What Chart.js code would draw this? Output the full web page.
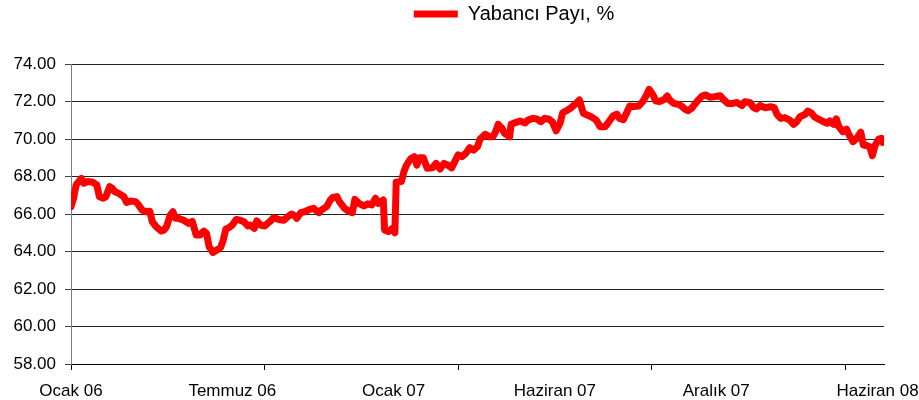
<!DOCTYPE html>
<html>
<head>
<meta charset="utf-8">
<script src="https://cdn.jsdelivr.net/npm/chart.js@4/dist/chart.umd.min.js"></script>
<style>
  html, body { margin: 0; padding: 0; background: #fff; }
  #wrap { width: 919px; height: 400px; }
</style>
</head>
<body>
<div id="wrap"><canvas id="ChartPay"></canvas></div>
<script>
// trading day index (0 = start of Ocak 06) and share value
var days = [0, 2, 4, 8, 10, 13, 17, 20, 22, 25, 27, 30, 32, 34, 37, 41, 43, 46, 50, 52,
  55, 58, 61, 63, 66, 70, 72, 74, 77, 79, 81, 83, 87, 91, 94, 97, 100, 103, 105, 107,
  110, 113, 116, 118, 120, 122, 125, 128, 131, 134, 137, 139, 142, 144, 147, 150, 154, 157, 161, 165,
  168, 171, 174, 175, 178, 181, 185, 188, 192, 194, 198, 201, 203, 206, 208, 212, 215, 218, 220, 223,
  227, 230, 233, 236, 238, 242, 243, 246, 249, 251, 252, 256, 258, 260, 263, 266, 268, 270, 273, 276,
  280, 283, 286, 289, 292, 295, 298, 300, 303, 306, 309, 312, 315, 317, 321, 324, 327, 329, 331, 334,
  336, 340, 341, 345, 348, 352, 354, 358, 361, 364, 367, 370, 373, 376, 379, 381, 384, 387, 391, 394,
  397, 400, 403, 407, 410, 414, 416, 420, 423, 425, 428, 431, 433, 436, 440, 443, 446, 448, 451, 453,
  456, 460, 462, 464, 467, 471, 473, 476, 478, 481, 485, 489, 492, 495, 499, 503, 506, 509, 513, 516,
  520, 522, 526, 529, 531, 534, 538, 542, 545, 547, 550, 553, 557, 560, 562, 565, 569, 571, 574, 576,
  579, 582, 586, 588, 591, 593, 595, 598, 601, 603, 606, 609, 612, 614, 617, 619, 621, 623, 626, 628,
  629];
var yabanciPayi = [66.39, 66.84, 67.55, 67.90, 67.64, 67.73, 67.69, 67.55, 66.92, 66.84, 66.92, 67.46, 67.37, 67.19, 67.10, 66.92, 66.62, 66.69, 66.66, 66.52,
  66.21, 66.12, 66.15, 65.59, 65.32, 65.09, 65.14, 65.32, 65.95, 66.12, 65.77, 65.77, 65.68, 65.50, 65.60, 64.88, 64.88, 65.09, 64.97, 64.26,
  63.95, 64.08, 64.22, 64.61, 65.20, 65.25, 65.41, 65.71, 65.67, 65.59, 65.36, 65.41, 65.23, 65.63, 65.41, 65.36, 65.59, 65.80, 65.71, 65.67,
  65.86, 66.00, 65.86, 65.77, 66.07, 66.12, 66.25, 66.30, 66.07, 66.21, 66.39, 66.75, 66.89, 66.93, 66.66, 66.30, 66.16, 66.07, 66.78, 66.57,
  66.43, 66.54, 66.48, 66.84, 66.57, 66.75, 65.15, 65.06, 65.23, 65.00, 67.70, 67.73, 68.26, 68.61, 68.93, 69.06, 68.61, 69.00, 69.00, 68.44,
  68.46, 68.70, 68.40, 68.70, 68.61, 68.46, 68.88, 69.15, 69.06, 69.24, 69.54, 69.41, 69.59, 70.00, 70.25, 70.12, 70.12, 70.39, 70.78, 70.57,
  70.30, 70.12, 70.78, 70.89, 70.96, 70.85, 71.01, 71.10, 71.07, 70.92, 71.10, 71.07, 70.92, 70.44, 70.84, 71.40, 71.51, 71.64, 71.87, 72.08,
  71.37, 71.28, 71.19, 71.01, 70.66, 70.66, 70.84, 71.23, 71.33, 71.10, 71.03, 71.46, 71.76, 71.73, 71.76, 71.99, 72.35, 72.65, 72.35, 72.04,
  71.99, 72.12, 72.29, 72.08, 71.90, 71.84, 71.76, 71.58, 71.51, 71.64, 71.99, 72.29, 72.35, 72.23, 72.26, 72.31, 72.08, 71.90, 71.90, 71.95,
  71.78, 71.99, 71.95, 71.67, 71.60, 71.78, 71.67, 71.72, 71.67, 71.32, 71.10, 71.14, 71.01, 70.78, 70.89, 71.19, 71.32, 71.49, 71.37, 71.19,
  71.07, 70.96, 70.84, 70.96, 70.78, 71.07, 70.66, 70.39, 70.52, 70.21, 69.86, 70.04, 70.36, 69.68, 69.64, 69.59, 69.11, 69.64, 70.00, 70.04,
  69.82];

// x axis: where the labels sit and where the tick marks sit
var labelDays = [0, 125, 250, 375, 500, 625];
var labelNames = ['Ocak 06', 'Temmuz 06', 'Ocak 07', 'Haziran 07', 'Aralık 07', 'Haziran 08'];
var markDays = [0, 150, 300, 450, 600];

var fontFam = 'Arial, "Liberation Sans", sans-serif';

var allTicks = labelDays.concat(markDays).filter(function (v, i, a) { return a.indexOf(v) === i; })
  .sort(function (a, b) { return a - b; });

var points = [];
for (var i = 0; i < days.length; i++) {
  points[i] = { x: days[i], y: yabanciPayi[i] };
}

const layoutFix = {
  id: 'layoutFix',
  beforeInit: (chart) => {
    var lg = chart.legend;
    var origFit = lg.fit.bind(lg);
    lg.fit = function () {
      origFit();
      this.height = 64;
    };
  },
  afterLayout: (chart) => {
    // legend sits right of centre in the original
    chart.legend.left += 72;
    chart.legend.right += 72;
  }
};

const data = {
  datasets: [{
    label: 'Yabancı Payı, %',
    data: points,
    borderColor: '#ff0000',
    backgroundColor: '#ff0000',
    borderWidth: 7,
    borderCapStyle: 'round',
    borderJoinStyle: 'round',
    pointRadius: 0,
    pointStyle: 'line',
    tension: 0
  }]
};

const config = {
  type: 'line',
  data: data,
  options: {
    responsive: true,
    maintainAspectRatio: false,
    animation: false,
    layout: { padding: { top: 0, right: 35, bottom: 0, left: 0 } },
    plugins: {
      tooltip: { enabled: false },
      legend: {
        position: 'top',
        labels: {
          usePointStyle: true,
          pointStyleWidth: 44,
          boxHeight: 6,
          padding: 4,
          color: '#000',
          font: { family: fontFam, size: 20 }
        }
      }
    },
    scales: {
      x: {
        type: 'linear',
        min: 0,
        max: 630,
        afterBuildTicks: (scale) => {
          scale.ticks = allTicks.map(function (v) { return { value: v }; });
        },
        afterFit: (scale) => {
          scale.height = 36;
          scale.paddingLeft = 0;
          scale.paddingRight = 0;
        },
        grid: {
          drawOnChartArea: false,
          drawTicks: true,
          tickLength: 6,
          tickColor: (ctx) => (ctx.tick && markDays.indexOf(ctx.tick.value) >= 0) ? '#000' : 'rgba(0,0,0,0)'
        },
        border: { display: true, color: '#000', width: 1 },
        ticks: {
          autoSkip: false,
          maxRotation: 0,
          padding: 11,
          color: '#000',
          font: { family: fontFam, size: 17 },
          callback: function (value) {
            var k = labelDays.indexOf(value);
            return k >= 0 ? labelNames[k] : '';
          }
        }
      },
      y: {
        min: 58,
        max: 74,
        afterFit: (scale) => { scale.width = 71; },
        grid: {
          color: '#222',
          lineWidth: 1,
          tickLength: 6,
          tickColor: '#444'
        },
        border: { display: true, color: '#808080', width: 1 },
        ticks: {
          stepSize: 2,
          padding: 9,
          color: '#000',
          font: { family: fontFam, size: 17 },
          callback: (v) => v.toFixed(2)
        }
      }
    }
  },
  plugins: [layoutFix]
};

const payChart = new Chart(document.getElementById('ChartPay'), config);
</script>
</body>
</html>
